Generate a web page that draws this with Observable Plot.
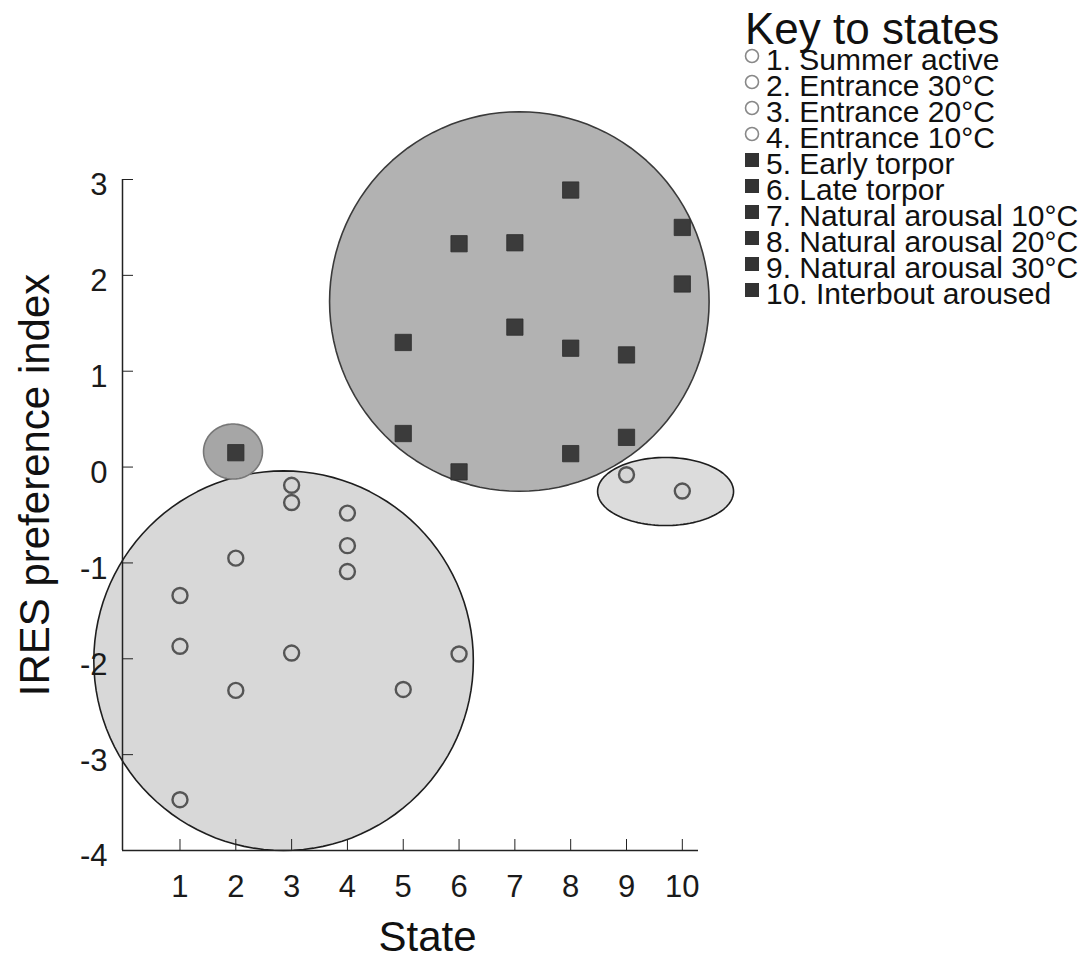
<!DOCTYPE html>
<html>
<head>
<meta charset="utf-8">
<script src="https://cdn.jsdelivr.net/npm/d3@7"></script>
<script src="https://cdn.jsdelivr.net/npm/@observablehq/plot@0.6"></script>
<style>
  body { margin: 0; background: #fff; }
  #wrap { position: relative; width: 1088px; height: 964px; font-family: "Liberation Sans", Arial, sans-serif; }
  #chart { position: absolute; left: 0; top: 0; }
  #key { position: absolute; left: 0; top: 0; pointer-events: none; }
</style>
</head>
<body>
<div id="wrap">
  <div id="chart"></div>
  <svg id="key" width="1088" height="330"></svg>
</div>
<script>
// ---- Key to states ----
const stateNames = [
  "Summer active", "Entrance 30°C", "Entrance 20°C", "Entrance 10°C",
  "Early torpor", "Late torpor", "Natural arousal 10°C",
  "Natural arousal 20°C", "Natural arousal 30°C", "Interbout aroused"
];
const stateMarkers = ["circle", "circle", "circle", "circle", "square", "square", "square", "square", "square", "square"];

// ---- Axis ticks ----
const xTicks = [1, 2, 3, 4, 5, 6, 7, 8, 9, 10];
const yTicks = [-4, -3, -2, -1, 0, 1, 2, 3];
const yTickLabels = ["-4", "-3", "-2", "-1", "0", "1", "2", "3"];

// ---- Individual animals: open circles ----
const circleStates = [1, 1, 1, 2, 2, 3, 3, 3, 4, 4, 4, 5, 6, 9, 10];
const circleIndex  = [-1.34, -1.87, -3.47, -0.95, -2.33, -0.19, -0.37, -1.94, -0.48, -0.82, -1.09, -2.32, -1.95, -0.08, -0.25];

// ---- Individual animals: filled squares ----
const squareStates = [2, 5, 5, 6, 6, 7, 7, 8, 8, 8, 9, 9, 10, 10];
const squareIndex  = [0.15, 1.30, 0.35, 2.33, -0.05, 2.34, 1.46, 2.89, 1.24, 0.14, 1.17, 0.31, 2.50, 1.91];

// ---- Cluster enclosures (centre and radii in data units) ----
const clusterCenterX = [2.856, 7.08, 9.70, 1.95];
const clusterCenterY = [-2.02, 1.727, -0.255, 0.162];
const clusterRadiusX = [3.40, 3.40, 1.218, 0.528];
const clusterRadiusY = [1.98, 1.98, 0.355, 0.287];

const clusterFills = ["#d8d8d8", "#b2b2b2", "#dcdcdc", "#a6a6a6"];
const clusterStrokes = ["#1e1e1e", "#3a3a3a", "#1e1e1e", "#777"];

const circles = circleStates.map((s, i) => ({state: s, index: circleIndex[i]}));
const squares = squareStates.map((s, i) => ({state: s, index: squareIndex[i]}));

// Closed outline of an ellipse around each cluster
function outline(i) {
  const n = 120;
  return d3.range(n).map(k => {
    const t = 2 * Math.PI * k / n;
    return {x: clusterCenterX[i] + clusterRadiusX[i] * Math.cos(t),
            y: clusterCenterY[i] + clusterRadiusY[i] * Math.sin(t)};
  });
}

const xDomain = [-0.03, 10.29];
const font = "'Liberation Sans', Arial, sans-serif";

const chart = Plot.plot({
  width: 1088,
  height: 964,
  marginLeft: 122,
  marginRight: 390,
  marginTop: 179,
  marginBottom: 114,
  x: {domain: xDomain, axis: null},
  y: {domain: [-4, 3], axis: null},
  style: {fontFamily: font, color: "#1a1a1a", background: "transparent"},
  marks: [
    // enclosures: light cluster, dark cluster, small ellipse, small circle
    ...[0, 1, 2, 3].map(i => Plot.line(outline(i), {
      x: "x", y: "y", curve: "linear-closed",
      fill: clusterFills[i], stroke: clusterStrokes[i], strokeWidth: 1.6
    })),
    // axis lines
    Plot.ruleY([-4], {x1: xDomain[0], x2: xDomain[1], stroke: "#222", strokeWidth: 1.5}),
    Plot.ruleX([xDomain[0]], {y1: -4, y2: 3, stroke: "#222", strokeWidth: 1.5}),
    // inward tick marks
    Plot.axisX(xTicks, {
      anchor: "bottom", tickSize: -11, tickFormat: () => "", label: null, stroke: "#222"
    }),
    Plot.axisY(yTicks, {
      anchor: "left", tickSize: -11, tickFormat: () => "", label: null, stroke: "#222"
    }),
    // tick labels
    Plot.axisX(xTicks, {
      anchor: "bottom", tickSize: 0, tickPadding: 24, fontSize: 31,
      tickFormat: d => String(d), label: null
    }),
    Plot.axisY(yTicks, {
      anchor: "left", tickSize: 0, tickPadding: 15, fontSize: 31, dy: 6,
      tickFormat: d => yTickLabels[yTicks.indexOf(d)], label: null
    }),
    // points
    Plot.dot(circles, {
      x: "state", y: "index", symbol: "circle", r: 7.5,
      fill: "#d6d6d6", stroke: "#555", strokeWidth: 2.4
    }),
    Plot.dot(squares, {
      x: "state", y: "index", symbol: "square", r: 9.2,
      fill: "#3b3b3b", stroke: "#2e2e2e", strokeWidth: 0.8
    }),
    // axis titles
    Plot.text(["State"], {
      frameAnchor: "bottom", dx: 17, dy: 100, fontSize: 42, fill: "#111"
    }),
    Plot.text(["IRES preference index"], {
      frameAnchor: "left", textAnchor: "middle", rotate: -90, dx: -87, dy: -30, fontSize: 42, fill: "#111"
    })
  ]
});
document.getElementById("chart").appendChild(chart);

// ---- Legend ----
const key = d3.select("#key").style("font-family", font);
key.append("text")
  .attr("x", 745).attr("y", 44)
  .attr("font-size", 44).attr("fill", "#111")
  .text("Key to states");

const rowTop = 60, rowStep = 26;
stateNames.forEach((name, i) => {
  const cy = rowTop + i * rowStep;
  if (stateMarkers[i] === "circle") {
    key.append("circle").attr("cx", 752).attr("cy", cy - 4).attr("r", 6.5)
      .attr("fill", "#fff").attr("stroke", "#888").attr("stroke-width", 1.6);
  } else {
    key.append("rect").attr("x", 745).attr("y", cy - 11).attr("width", 14).attr("height", 14)
      .attr("fill", "#333");
  }
  key.append("text")
    .attr("x", 766).attr("y", cy + 10)
    .attr("font-size", 30).attr("fill", "#111")
    .text(`${i + 1}. ${name}`);
});
</script>
</body>
</html>
